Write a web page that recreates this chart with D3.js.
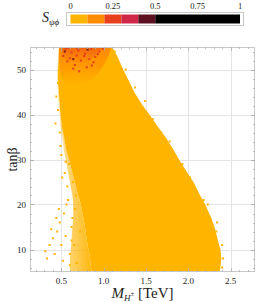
<!DOCTYPE html>
<html>
<head>
<meta charset="utf-8">
<script src="https://cdn.jsdelivr.net/npm/d3@7"></script>
<style>
  body { margin: 0; background: #fff; }
  svg { display: block; }
  text { font-family: "Liberation Serif", "DejaVu Serif", serif; fill: #222; }
</style>
</head>
<body>
<svg id="chart" width="273" height="302"></svg>
<script>
// tick labels
const xTicks = [0.5, 1.0, 1.5, 2.0, 2.5];
const yTicks = [10, 20, 30, 40, 50];
const cbTicks = [0, 0.25, 0.5, 0.75, 1];

// colour bar bins of S_psi-phi
const cbBins = [0, 0.1, 0.2, 0.3, 0.4, 0.5, 1];
const cbColors = ["#ffb400", "#ff8c00", "#e8401c", "#cf2848", "#5c1020", "#000000"];

// outline of the scanned region
const edgeTanb   = [55, 53, 50, 47, 45, 42, 40, 37, 35, 32, 30, 27, 25, 22, 20, 17, 15, 12, 10, 8, 6, 5];
const denseLeft  = [0.48, 0.47, 0.46, 0.46, 0.47, 0.48, 0.49, 0.51, 0.53, 0.56, 0.59, 0.63, 0.66, 0.70, 0.73, 0.76, 0.78, 0.80, 0.82, 0.84, 0.85, 0.86];
const sparseLeft = [0.47, 0.46, 0.45, 0.45, 0.46, 0.47, 0.48, 0.49, 0.51, 0.53, 0.55, 0.58, 0.60, 0.63, 0.64, 0.64, 0.63, 0.62, 0.61, 0.60, 0.60, 0.60];
const rightEdge  = [1.10, 1.16, 1.23, 1.31, 1.36, 1.46, 1.54, 1.65, 1.73, 1.83, 1.89, 1.99, 2.06, 2.14, 2.20, 2.27, 2.31, 2.35, 2.38, 2.39, 2.38, 2.37];

// orange (S ~ 0.1-0.2) patch near large tan beta
const orangeTanb  = [55, 53, 52, 50, 48, 46.5];
const orangeLeft  = [0.47, 0.47, 0.47, 0.48, 0.50, 0.55];
const orangeRight = [1.09, 1.06, 1.03, 0.97, 0.88, 0.75];

// red (S ~ 0.2-0.3) haze in the top rows
const redTanbBand  = [55, 54, 53, 52, 51.2];
const redLeftBand  = [0.50, 0.50, 0.52, 0.56, 0.62];
const redRightBand = [0.98, 0.96, 0.90, 0.82, 0.72];

// isolated points outside the dense part
const looseM    = [0.31, 0.36, 0.33, 0.40, 0.45, 0.42, 0.48, 0.50, 0.53, 0.55, 0.58, 0.52, 0.60, 0.57, 0.62, 0.47, 0.65, 0.54, 0.50, 0.48, 0.46, 0.44, 0.60, 0.66, 0.68, 0.38, 0.70, 0.63, 0.56, 0.44, 0.51, 0.59, 0.43, 0.49, 0.46, 0.62, 0.67, 0.72, 0.55, 0.64];
const looseTanb = [9.6, 11, 8, 12.5, 14, 9, 16, 11, 18, 13, 21, 7.5, 9, 24, 15, 19, 11, 27, 31, 36, 41, 44, 6.5, 19, 7, 14.5, 23, 17, 20, 17, 26, 29, 38, 33, 47, 12, 22, 14, 29.5, 25];

// fringe points just outside the right edge
const fringeM    = [1.13, 1.26, 1.37, 1.49, 1.58, 1.68, 1.78, 1.86, 1.93, 2.02, 2.10, 2.18, 2.26, 2.33, 2.40, 2.41, 2.40, 2.34, 2.23];
const fringeTanb = [54, 50, 46, 43, 39, 36, 34, 30, 29, 26, 23, 21, 17, 14, 11, 8, 6, 16, 20];

// red / dark points in the upper corner
const redM    = [0.55, 0.62, 0.70, 0.78, 0.85, 0.60, 0.73, 0.90, 0.66, 0.52, 0.95, 0.80, 0.58, 0.75, 0.68, 0.88, 0.64, 0.83, 0.71, 0.93, 0.57, 0.77, 0.99, 0.86, 0.69];
const redTanb = [54.5, 53.8, 54.2, 53.5, 54.6, 52.5, 52.0, 52.8, 51.0, 53.0, 54.0, 50.5, 54.8, 54.9, 53.1, 51.6, 50.2, 52.3, 49.6, 53.4, 51.8, 53.0, 54.6, 50.9, 54.7];
const darkM = [0.54, 0.64, 0.81];
const darkTanb = [54.0, 52.3, 54.4];

const svg = d3.select("#chart");
const pLeft = 30, pRight = 255, pTop = 47, pBottom = 272;

const x = d3.scaleLinear().domain([0.129, 2.788]).range([pLeft, pRight]);
const y = d3.scaleLinear().domain([5, 55]).range([pBottom, pTop]);

// grid
const grid = svg.append("g");
grid.selectAll(".gx").data(xTicks).enter().append("line")
    .attr("x1", d => Math.round(x(d)) + 0.5).attr("x2", d => Math.round(x(d)) + 0.5)
    .attr("y1", pTop).attr("y2", pBottom)
    .attr("stroke", "#e4e4e4").attr("stroke-width", 1);
grid.selectAll(".gy").data(yTicks).enter().append("line")
    .attr("y1", d => Math.round(y(d)) + 0.5).attr("y2", d => Math.round(y(d)) + 0.5)
    .attr("x1", pLeft).attr("x2", pRight)
    .attr("stroke", "#e4e4e4").attr("stroke-width", 1);

const defs = svg.append("defs");
defs.append("clipPath").attr("id", "clip")
  .append("rect").attr("x", pLeft).attr("y", pTop)
  .attr("width", pRight - pLeft).attr("height", pBottom - pTop);

const plot = svg.append("g").attr("clip-path", "url(#clip)");

const band = (tb, l, r) => tb.map((t, i) => ({ t, l: l[i], r: r[i] }));
const area = d3.area()
    .y(d => y(d.t))
    .x0(d => x(d.l))
    .x1(d => x(d.r));

// sparse zone fades in from left to right
const sg = defs.append("linearGradient").attr("id", "sg")
    .attr("x1", 0).attr("x2", 1).attr("y1", 0).attr("y2", 0);
sg.append("stop").attr("offset", 0).attr("stop-color", "#ffb400").attr("stop-opacity", 0.35);
sg.append("stop").attr("offset", 1).attr("stop-color", "#ffb400").attr("stop-opacity", 0.95);
plot.append("path").datum(band(edgeTanb, sparseLeft, denseLeft))
    .attr("d", area).attr("fill", "url(#sg)");
plot.append("path").datum(band(edgeTanb, denseLeft, rightEdge))
    .attr("d", area).attr("fill", "#ffb400");

function vGrad(id, t0, t1, stops) {
  const g = defs.append("linearGradient").attr("id", id)
      .attr("gradientUnits", "userSpaceOnUse")
      .attr("x1", 0).attr("x2", 0).attr("y1", y(t0)).attr("y2", y(t1));
  stops.forEach(s => g.append("stop").attr("offset", s[0])
      .attr("stop-color", s[1]).attr("stop-opacity", s[2]));
}
vGrad("og", 55, 46.5, [[0, "#ff8a00", 1], [0.5, "#ff8f00", 0.75], [1, "#ff9a00", 0]]);
vGrad("rg", 55, 51.2, [[0, "#e8481c", 0.55], [1, "#e8481c", 0]]);

const smooth = d3.area().y(d => y(d.t)).x0(d => x(d.l)).x1(d => x(d.r)).curve(d3.curveBasis);
plot.append("path").datum(band(orangeTanb, orangeLeft, orangeRight))
    .attr("d", smooth).attr("fill", "url(#og)");
plot.append("path").datum(band(redTanbBand, redLeftBand, redRightBand))
    .attr("d", smooth).attr("fill", "url(#rg)");

function dots(cls, xs, ys, color) {
  plot.selectAll("." + cls).data(xs).enter().append("rect")
      .attr("class", cls)
      .attr("x", d => x(d) - 1).attr("y", (d, i) => y(ys[i]) - 1)
      .attr("width", 2).attr("height", 2).attr("fill", color);
}
dots("loose", looseM, looseTanb, "#ffb400");
dots("fringe", fringeM, fringeTanb, "#ffb400");
dots("red", redM, redTanb, "#e2401c");
dots("dark", darkM, darkTanb, "#7a1a20");

// frame
svg.append("rect").attr("x", pLeft + 0.5).attr("y", pTop + 0.5)
    .attr("width", pRight - pLeft - 1).attr("height", pBottom - pTop - 1)
    .attr("fill", "none").attr("stroke", "#c8c8c8").attr("stroke-width", 1);

// inward ticks on every side
const ticks = svg.append("g").attr("stroke", "#b0b0b0").attr("stroke-width", 0.8);
const xMinor = d3.range(2, 28).map(i => i / 10);
const yMinor = d3.range(6, 55, 2);
xMinor.forEach(v => {
  const major = xTicks.some(t => Math.abs(t - v) < 1e-6);
  const len = major ? 4 : 2;
  const px = Math.round(x(v)) + 0.5;
  ticks.append("line").attr("x1", px).attr("x2", px).attr("y1", pBottom).attr("y2", pBottom - len);
  ticks.append("line").attr("x1", px).attr("x2", px).attr("y1", pTop).attr("y2", pTop + len);
});
yMinor.concat(yTicks).forEach(v => {
  const major = yTicks.includes(v);
  const len = major ? 4 : 2;
  const py = Math.round(y(v)) + 0.5;
  ticks.append("line").attr("y1", py).attr("y2", py).attr("x1", pLeft).attr("x2", pLeft + len);
  ticks.append("line").attr("y1", py).attr("y2", py).attr("x1", pRight).attr("x2", pRight - len);
});

// tick labels
svg.selectAll(".xl").data(xTicks).enter().append("text")
    .attr("x", d => x(d)).attr("y", pBottom + 12)
    .attr("text-anchor", "middle").attr("font-size", 9)
    .text(d => d.toFixed(1));
svg.selectAll(".yl").data(yTicks).enter().append("text")
    .attr("x", pLeft - 4).attr("y", d => y(d) + 3)
    .attr("text-anchor", "end").attr("font-size", 9)
    .text(d => d);

// axis titles
svg.append("text").attr("transform", `translate(17,${(pTop + pBottom) / 2}) rotate(-90)`)
    .attr("text-anchor", "middle").attr("font-size", 14)
    .text("tanβ");
const xt = svg.append("text").attr("x", (pLeft + pRight) / 2).attr("y", 298)
    .attr("text-anchor", "middle").attr("font-size", 15);
xt.append("tspan").attr("font-style", "italic").text("M");
xt.append("tspan").attr("font-style", "italic").attr("font-size", 9).attr("dy", 3).text("H");
xt.append("tspan").attr("font-size", 7).attr("dy", -5).text("±");
xt.append("tspan").attr("dy", 2).text(" [TeV]");

// colour bar
const cx = d3.scaleLinear().domain([0, 1]).range([70.5, 240]);
const cb = svg.append("g");
cb.append("rect").attr("x", 66.5).attr("y", 12.5).attr("width", 177).attr("height", 13)
    .attr("fill", "none").attr("stroke", "#c8c8c8");
cb.selectAll(".bin").data(cbColors).enter().append("rect")
    .attr("x", (d, i) => cx(cbBins[i])).attr("y", 14.5)
    .attr("width", (d, i) => cx(cbBins[i + 1]) - cx(cbBins[i]))
    .attr("height", 9).attr("fill", d => d);
cb.selectAll(".cbl").data(cbTicks).enter().append("text")
    .attr("x", d => cx(d)).attr("y", 9)
    .attr("text-anchor", "middle").attr("font-size", 8.5)
    .text(d => d);
const st = svg.append("text").attr("x", 42).attr("y", 22).attr("font-size", 14);
st.append("tspan").attr("font-style", "italic").text("S");
st.append("tspan").attr("font-style", "italic").attr("font-size", 9).attr("dy", 3).text("ψϕ");
</script>
</body>
</html>
